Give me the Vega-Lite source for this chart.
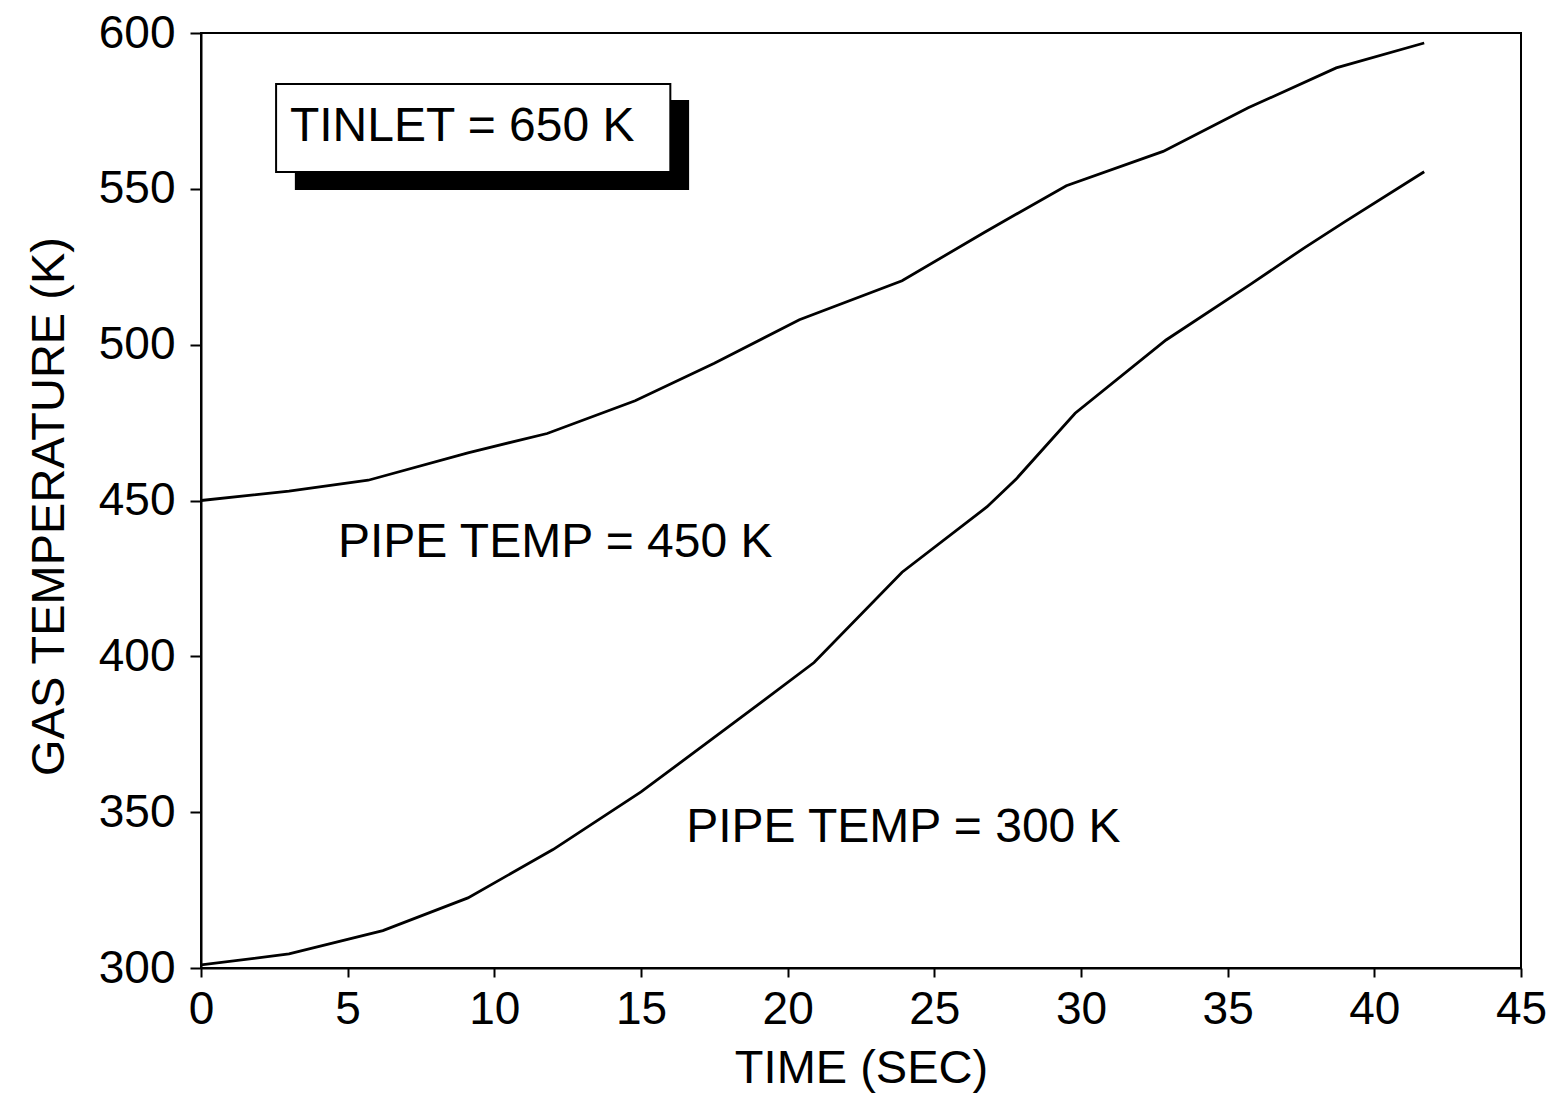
{
  "$schema": "https://vega.github.io/schema/vega-lite/v6.json",
  "autosize": {"type": "none"},
  "width": 1320,
  "height": 935,
  "padding": {"left": 201, "top": 33, "right": 33, "bottom": 130},
  "background": "white",
  "config": {
    "view": {"stroke": "black", "strokeWidth": 2},
    "font": "Liberation Sans",
    "axis": {
      "grid": false,
      "domainColor": "black",
      "domainWidth": 2,
      "tickColor": "black",
      "tickWidth": 2,
      "labelColor": "black",
      "labelFont": "Liberation Sans",
      "labelFontSize": 46,
      "titleColor": "black",
      "titleFont": "Liberation Sans",
      "titleFontSize": 47,
      "titleFontWeight": "normal"
    }
  },
  "datasets": {
    "curves": [
      {"series": "450", "t": 0, "T": 450},
      {"series": "450", "t": 3, "T": 453},
      {"series": "450", "t": 5.7, "T": 456.5},
      {"series": "450", "t": 9.1, "T": 465.3},
      {"series": "450", "t": 11.8, "T": 471.5},
      {"series": "450", "t": 14.8, "T": 482},
      {"series": "450", "t": 17.5, "T": 494},
      {"series": "450", "t": 20.4, "T": 508},
      {"series": "450", "t": 23.9, "T": 520.5},
      {"series": "450", "t": 26.7, "T": 536},
      {"series": "450", "t": 29.5, "T": 551},
      {"series": "450", "t": 32.8, "T": 562},
      {"series": "450", "t": 35.7, "T": 576},
      {"series": "450", "t": 38.7, "T": 588.8},
      {"series": "450", "t": 41.7, "T": 596.8},
      {"series": "300", "t": 0, "T": 301},
      {"series": "300", "t": 3, "T": 304.5},
      {"series": "300", "t": 6.2, "T": 312},
      {"series": "300", "t": 9.1, "T": 322.5},
      {"series": "300", "t": 12, "T": 338},
      {"series": "300", "t": 15, "T": 356.5},
      {"series": "300", "t": 18, "T": 377.5},
      {"series": "300", "t": 20.9, "T": 398},
      {"series": "300", "t": 23.9, "T": 427},
      {"series": "300", "t": 26.8, "T": 448},
      {"series": "300", "t": 27.8, "T": 457},
      {"series": "300", "t": 29.8, "T": 478},
      {"series": "300", "t": 32.9, "T": 501.5},
      {"series": "300", "t": 35.8, "T": 519.5},
      {"series": "300", "t": 37.6, "T": 531},
      {"series": "300", "t": 39, "T": 539.5},
      {"series": "300", "t": 41.7, "T": 555.5}
    ],
    "shadow": [{"x1": 3.2, "x2": 16.64, "y1": 549.6, "y2": 578.5}],
    "box": [{"x1": 2.56, "x2": 16.0, "y1": 555.4, "y2": 583.6}],
    "labels": [
      {"t": 3.03, "T": 569.8, "text": "TINLET = 650 K"},
      {"t": 4.67, "T": 436.4, "text": "PIPE TEMP = 450 K"},
      {"t": 16.54, "T": 344.9, "text": "PIPE TEMP = 300 K"}
    ]
  },
  "layer": [
    {
      "data": {"name": "curves"},
      "mark": {"type": "line", "color": "black", "strokeWidth": 2.8, "clip": true},
      "encoding": {
        "x": {
          "field": "t", "type": "quantitative",
          "scale": {"domain": [0, 45], "nice": false, "zero": false},
          "axis": {
            "values": [0, 5, 10, 15, 20, 25, 30, 35, 40, 45],
            "tickSize": 9,
            "labelPadding": 10,
            "labelFlush": false,
            "title": "TIME (SEC)",
            "titleY": 114,
            "titleBaseline": "alphabetic"
          }
        },
        "y": {
          "field": "T", "type": "quantitative",
          "scale": {"domain": [300, 600], "nice": false, "zero": false},
          "axis": {
            "values": [300, 350, 400, 450, 500, 550, 600],
            "tickSize": 11,
            "labelPadding": 15,
            "labelFlush": false,
            "title": "GAS TEMPERATURE (K)",
            "titleX": -138,
            "titleY": 473,
            "titleAngle": -90,
            "titleAlign": "center",
            "titleBaseline": "alphabetic"
          }
        },
        "detail": {"field": "series"}
      }
    },
    {
      "data": {"name": "shadow"},
      "mark": {"type": "rect", "color": "black"},
      "encoding": {
        "x": {"field": "x1", "type": "quantitative"},
        "x2": {"field": "x2"},
        "y": {"field": "y1", "type": "quantitative"},
        "y2": {"field": "y2"}
      }
    },
    {
      "data": {"name": "box"},
      "mark": {"type": "rect", "fill": "white", "stroke": "black", "strokeWidth": 2},
      "encoding": {
        "x": {"field": "x1", "type": "quantitative"},
        "x2": {"field": "x2"},
        "y": {"field": "y1", "type": "quantitative"},
        "y2": {"field": "y2"}
      }
    },
    {
      "data": {"name": "labels"},
      "mark": {"type": "text", "align": "left", "baseline": "middle", "fontSize": 48, "color": "black", "font": "Liberation Sans"},
      "encoding": {
        "x": {"field": "t", "type": "quantitative"},
        "y": {"field": "T", "type": "quantitative"},
        "text": {"field": "text"}
      }
    }
  ]
}
